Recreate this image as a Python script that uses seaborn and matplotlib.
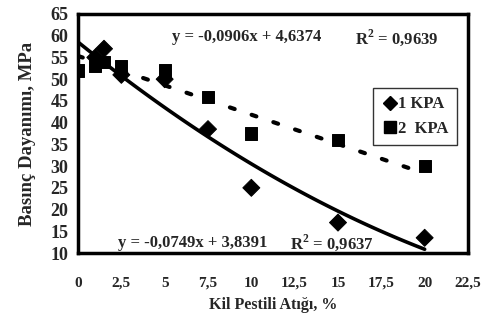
import numpy as np
import pandas as pd
import matplotlib
matplotlib.use("Agg")
import matplotlib.pyplot as plt
import seaborn as sns
from matplotlib.lines import Line2D

# Data
x_kpa1 = [1, 1.5, 2.5, 5, 7.5, 10, 15, 20]
y_kpa1 = [55, 57, 51, 50, 38.5, 25, 17, 13.5]
x_kpa2 = [0, 1, 1.5, 2.5, 5, 7.5, 10, 15, 20]
y_kpa2 = [52, 53, 54, 53, 52, 46, 37.5, 36, 30]
series_names = ["1 KPA", "2 KPA"]
# trend lines as drawn in the reference
trend1_x = [0, 5, 7.5, 10, 15, 20]
trend1_y = [58.3, 44, 37, 30, 19.5, 11]
trend2_x = [0, 4.15, 9.5, 13.4, 18.7, 20]
trend2_y = [55.3, 49.7, 42.8, 37, 30, 28.4]
x_ticks = [0, 2.5, 5, 7.5, 10, 12.5, 15, 17.5, 20, 22.5]
y_ticks = [10, 15, 20, 25, 30, 35, 40, 45, 50, 55, 60, 65]
eq_top = "y = -0,0906x + 4,6374"
r2_top = "R$^2$ = 0,9639"
eq_bottom = "y = -0,0749x + 3,8391"
r2_bottom = "R$^2$ = 0,9637"

sns.set_theme(style="white")
plt.rcParams["font.family"] = ["Liberation Serif", "DejaVu Serif"]
plt.rcParams["font.weight"] = "bold"
plt.rcParams["mathtext.fontset"] = "custom"
plt.rcParams["mathtext.rm"] = "Liberation Serif:bold"

df = pd.DataFrame({
    "x": x_kpa1 + x_kpa2,
    "y": y_kpa1 + y_kpa2,
    "series": [series_names[0]] * len(x_kpa1) + [series_names[1]] * len(x_kpa2),
})

def smooth(xs, ys, deg):
    c = np.polyfit(np.array(xs, float), np.array(ys, float), deg)
    xx = np.linspace(0, 20, 100)
    return xx, np.polyval(c, xx)

fx1, fy1 = smooth(trend1_x, trend1_y, 2)
fx2, fy2 = smooth(trend2_x, trend2_y, 1)

fig = plt.figure(figsize=(4.89, 3.32), dpi=100)
ax = fig.add_axes([78/489, 1 - 253/332, (468-78)/489, (253-14)/332])

sns.lineplot(x=fx1, y=fy1, ax=ax, color="black", lw=2.6, zorder=2)
ax.plot(fx2, fy2, color="black", lw=3.0, dashes=(1.2, 4.3), dash_capstyle="round", zorder=2)

sns.scatterplot(data=df, x="x", y="y", style="series", markers={"1 KPA": "D", "2 KPA": "s"},
                color="black", edgecolor="black", s=75, ax=ax, legend=False, zorder=3)

ax.set_xlim(0, 22.5)
ax.set_ylim(10, 65)
ax.set_xticks(x_ticks)
ax.set_yticks(y_ticks)
ax.set_xticklabels([str(t).replace(".", ",") for t in x_ticks], fontsize=11, fontweight="bold")
ax.set_yticklabels([str(t) for t in y_ticks], fontsize=13, fontweight="bold")
ax.tick_params(axis="both", direction="out", length=3, width=1.2, color="black", pad=4)
ax.tick_params(axis="x", pad=14)
for s in ax.spines.values():
    s.set_color("black")
    s.set_linewidth(2.5)

ax.set_xlabel("Kil Pestili Atığı, %", fontsize=11.5, fontweight="bold", labelpad=5)
ax.set_ylabel("Basınç Dayanımı, MPa", fontsize=13.5, fontweight="bold", labelpad=10)

ax.text(5.42, 59.6, eq_top, fontsize=12, fontweight="bold", va="center")
ax.text(16.0, 59.6, r2_top, fontsize=12, fontweight="bold", va="center")
ax.text(2.3, 12.3, eq_bottom, fontsize=12, fontweight="bold", va="center")
ax.text(12.25, 12.3, r2_bottom, fontsize=12, fontweight="bold", va="center")

handles = [Line2D([], [], marker="D", ls="", color="black", markersize=7.5),
           Line2D([], [], marker="s", ls="", color="black", markersize=8.5)]
leg = ax.legend(handles, ["1 KPA", "2  KPA"], loc="upper left", bbox_to_anchor=(0.757, 0.69),
                frameon=True, fancybox=False, handletextpad=0.0, handlelength=1.0,
                borderpad=0.5, labelspacing=0.5, borderaxespad=0,
                prop={"weight": "bold", "size": 12})
leg.get_frame().set_edgecolor("black")
leg.get_frame().set_linewidth(1.0)

fig.savefig("out.png", dpi=100)
